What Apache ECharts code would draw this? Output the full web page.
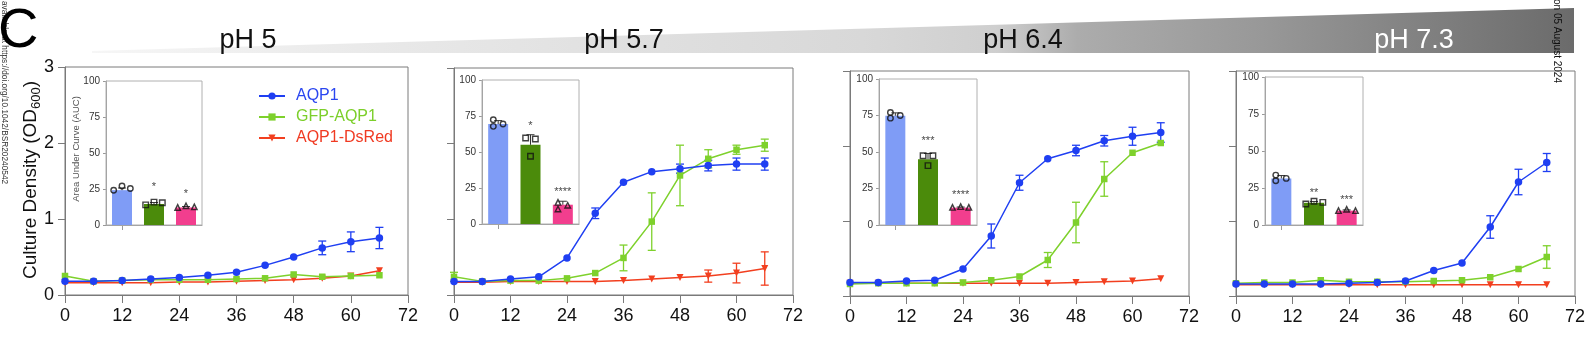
<!DOCTYPE html>
<html><head><meta charset="utf-8">
<script src="https://cdn.jsdelivr.net/npm/echarts@6/dist/echarts.min.js"></script>
<style>html,body{margin:0;padding:0;background:#fff}#c{width:1589px;height:345px}</style>
</head><body><div id="c"></div>
<script>
// ---------- DATA ----------
const times = [0, 6, 12, 18, 24, 30, 36, 42, 48, 54, 60, 66];
const xTickLabels = [0, 12, 24, 36, 48, 60, 72];
const yTickLabels = [0, 1, 2, 3];
const aucTickLabels = [0, 25, 50, 75, 100];
const phLabels = ['pH 5', 'pH 5.7', 'pH 6.4', 'pH 7.3'];
const seriesNames = ['AQP1', 'GFP-AQP1', 'AQP1-DsRed'];

// OD600 means per pH (pH 5, 5.7, 6.4, 7.3)
const aqp1Mean = [
  [0.18, 0.18, 0.19, 0.21, 0.23, 0.26, 0.30, 0.39, 0.50, 0.62, 0.70, 0.75],
  [0.18, 0.18, 0.21, 0.24, 0.49, 1.08, 1.49, 1.63, 1.67, 1.71, 1.73, 1.73],
  [0.18, 0.18, 0.20, 0.21, 0.36, 0.80, 1.51, 1.83, 1.94, 2.07, 2.13, 2.18],
  [0.16, 0.16, 0.16, 0.16, 0.17, 0.18, 0.20, 0.34, 0.44, 0.92, 1.52, 1.78]
];
const aqp1Sd = [
  [0.01, 0.01, 0.01, 0.01, 0.01, 0.01, 0.01, 0.02, 0.05, 0.09, 0.13, 0.14],
  [0.01, 0.01, 0.01, 0.01, 0.01, 0.07, 0.05, 0.05, 0.06, 0.07, 0.08, 0.08],
  [0.01, 0.01, 0.01, 0.01, 0.05, 0.16, 0.10, 0.05, 0.07, 0.07, 0.12, 0.13],
  [0.01, 0.01, 0.01, 0.01, 0.01, 0.01, 0.01, 0.01, 0.04, 0.15, 0.17, 0.12]
];
const gfpMean = [
  [0.25, 0.18, 0.19, 0.20, 0.20, 0.20, 0.21, 0.22, 0.27, 0.24, 0.25, 0.26],
  [0.24, 0.18, 0.19, 0.19, 0.22, 0.29, 0.49, 0.97, 1.58, 1.80, 1.92, 1.98],
  [0.16, 0.17, 0.17, 0.17, 0.18, 0.21, 0.26, 0.48, 0.98, 1.56, 1.91, 2.04],
  [0.17, 0.18, 0.18, 0.21, 0.19, 0.19, 0.19, 0.20, 0.21, 0.25, 0.36, 0.52]
];
const gfpSd = [
  [0.02, 0.01, 0.01, 0.01, 0.01, 0.01, 0.01, 0.01, 0.05, 0.02, 0.02, 0.02],
  [0.06, 0.01, 0.01, 0.01, 0.01, 0.01, 0.17, 0.38, 0.40, 0.12, 0.06, 0.08],
  [0.01, 0.01, 0.01, 0.01, 0.01, 0.01, 0.01, 0.10, 0.27, 0.23, 0.04, 0.03],
  [0.01, 0.01, 0.01, 0.02, 0.01, 0.01, 0.01, 0.01, 0.01, 0.01, 0.05, 0.15]
];
const redMean = [
  [0.16, 0.16, 0.16, 0.16, 0.17, 0.17, 0.18, 0.19, 0.20, 0.22, 0.25, 0.32],
  [0.17, 0.17, 0.18, 0.18, 0.18, 0.18, 0.19, 0.21, 0.23, 0.25, 0.29, 0.35],
  [0.17, 0.17, 0.17, 0.17, 0.17, 0.17, 0.17, 0.17, 0.18, 0.19, 0.20, 0.23],
  [0.15, 0.15, 0.15, 0.15, 0.15, 0.15, 0.15, 0.15, 0.15, 0.15, 0.15, 0.15]
];
const redSd = [
  [0.01, 0.01, 0.01, 0.01, 0.01, 0.01, 0.01, 0.01, 0.01, 0.01, 0.01, 0.02],
  [0.01, 0.01, 0.01, 0.01, 0.01, 0.01, 0.01, 0.01, 0.04, 0.08, 0.13, 0.22],
  [0.01, 0.01, 0.01, 0.01, 0.01, 0.01, 0.01, 0.01, 0.01, 0.01, 0.01, 0.01],
  [0.01, 0.01, 0.01, 0.01, 0.01, 0.01, 0.01, 0.01, 0.01, 0.01, 0.01, 0.01]
];

// AUC inset: bar means [AQP1, GFP-AQP1, AQP1-DsRed] per pH
const aucMean = [
  [24.2, 14.6, 12.2],
  [69.4, 55.0, 13.4],
  [74.8, 45.0, 11.9],
  [31.5, 15.0, 9.7]
];
const aucSd = [
  [1.5, 1.0, 0.6],
  [2.4, 7.0, 2.4],
  [2.0, 4.0, 0.4],
  [1.9, 0.9, 0.5]
];
// individual replicate values (three per bar)
const aucPoints = [
  [[24.1, 27.1, 25.3], [14.0, 15.9, 15.4], [12.2, 13.3, 12.6]],
  [[72.4, 67.8, 69.4], [59.7, 59.0, 47.0], [15.0, 10.4, 13.0]],
  [[77.1, 73.2, 75.0], [47.4, 47.4, 40.7], [12.1, 12.6, 12.1]],
  [[33.7, 29.9, 31.5], [14.2, 16.0, 15.3], [9.7, 10.6, 9.7]]
];
const aucPointOffsets = [
  [[-0.26, 0, 0.26], [-0.26, 0, 0.26], [-0.26, 0, 0.26]],
  [[-0.15, -0.15, 0.15], [-0.15, 0.15, 0], [-0.15, -0.15, 0.15]],
  [[-0.15, -0.15, 0.15], [-0.15, 0.15, 0], [-0.25, 0, 0.25]],
  [[-0.17, -0.17, 0.15], [-0.25, 0, 0.27], [-0.25, 0, 0.27]]
];
const aucStars = [
  ['', '*', '*'],
  ['', '*', '****'],
  ['', '***', '****'],
  ['', '**', '***']
];
const aucStarY = [
  [0, 28.3, 23.7],
  [0, 70, 24],
  [0, 59.5, 22.4],
  [0, 24, 18.7]
];

// ---------- STYLE / LAYOUT ----------
const FONT = "'Liberation Sans', Arial, Helvetica, sans-serif";
const lineColors = ['#1f3ff2', '#7ed12c', '#f23f1f'];
const legendColors = ['#2a46f0', '#7ccf2a', '#f03a22'];
const barColors = ['#7f9cf6', '#4b8b0b', '#f23e8e'];
const symbols = ['circle', 'rect', 'triangle'];
const symbolSizes = [7.5, 6.5, 7];
const symbolRot = [0, 0, 180];
const dotSymbols = ['circle', 'rect', 'triangle'];

const mainGrids = [
  {left: 65, top: 67, width: 343, height: 228},
  {left: 454, top: 68, width: 339, height: 227},
  {left: 850, top: 71, width: 339, height: 225},
  {left: 1236, top: 71, width: 339, height: 225}
];
const insetGrids = [
  {left: 106, top: 81, width: 96, height: 144},
  {left: 482, top: 80, width: 97, height: 144},
  {left: 879, top: 79, width: 98, height: 146},
  {left: 1265, top: 77, width: 98, height: 148}
];
const phCenters = [248, 624, 1023, 1414];
const phColors = ['#111', '#111', '#111', '#ffffff'];

const grids = [], xAxes = [], yAxes = [], series = [];
mainGrids.forEach(g => grids.push(Object.assign({show: true, borderColor: '#7a7a7a', borderWidth: 1, backgroundColor: 'transparent', containLabel: false, outerBoundsMode: 'none'}, g)));
insetGrids.forEach(g => grids.push(Object.assign({show: true, borderColor: '#b0b0b0', borderWidth: 1, backgroundColor: 'transparent', containLabel: false, outerBoundsMode: 'none', z: 3}, g)));

const xMin = xTickLabels[0], xMax = xTickLabels[xTickLabels.length - 1], xInt = xTickLabels[1] - xTickLabels[0];
const yMin = yTickLabels[0], yMax = yTickLabels[yTickLabels.length - 1], yInt = yTickLabels[1] - yTickLabels[0];

for (let p = 0; p < 4; p++) {
  xAxes.push({
    type: 'value', gridIndex: p, min: xMin, max: xMax, interval: xInt,
    axisLine: {show: true, onZero: false, lineStyle: {color: '#7a7a7a', width: 1}},
    axisTick: {show: true, length: 8, lineStyle: {color: '#7a7a7a'}},
    axisLabel: {show: true, fontSize: 18, color: '#111', fontFamily: FONT, margin: 12},
    splitLine: {show: false}
  });
  yAxes.push({
    type: 'value', gridIndex: p, min: yMin, max: yMax, interval: yInt,
    axisLine: {show: true, onZero: false, lineStyle: {color: '#7a7a7a', width: 1}},
    axisTick: {show: true, length: 7, lineStyle: {color: '#7a7a7a'}},
    axisLabel: {show: p === 0, fontSize: 18, color: '#111', fontFamily: FONT, margin: 11},
    splitLine: {show: false}
  });
}
for (let p = 0; p < 4; p++) {
  xAxes.push({
    type: 'category', gridIndex: 4 + p, data: seriesNames,
    axisLine: {show: true, onZero: false, lineStyle: {color: '#999', width: 1}},
    axisTick: {show: true, alignWithLabel: true, length: 5, lineStyle: {color: '#999'}},
    axisLabel: {show: false}, splitLine: {show: false}
  });
  yAxes.push({
    type: 'value', gridIndex: 4 + p, min: aucTickLabels[0], max: aucTickLabels[aucTickLabels.length - 1],
    interval: aucTickLabels[1] - aucTickLabels[0],
    axisLine: {show: true, onZero: false, lineStyle: {color: '#999', width: 1}},
    axisTick: {show: true, length: 3, lineStyle: {color: '#999'}},
    axisLabel: {show: true, fontSize: 10, color: '#333', fontFamily: FONT, margin: 6},
    splitLine: {show: false}
  });
}
for (let p = 0; p < 4; p++) {
  xAxes.push({type: 'value', gridIndex: 4 + p, min: -0.5, max: 2.5, show: false});
}

function errRender(params, api) {
  const x = api.value(0), y = api.value(1), e = api.value(2);
  const top = api.coord([x, y + e]), bot = api.coord([x, y - e]);
  if (bot[1] - top[1] < 8) return null;
  const w = 4, c = api.visual('color');
  const st = () => ({stroke: c, lineWidth: 1.3});
  return {type: 'group', children: [
    {type: 'line', shape: {x1: top[0], y1: top[1], x2: bot[0], y2: bot[1]}, style: st()},
    {type: 'line', shape: {x1: top[0] - w, y1: top[1], x2: top[0] + w, y2: top[1]}, style: st()},
    {type: 'line', shape: {x1: bot[0] - w, y1: bot[1], x2: bot[0] + w, y2: bot[1]}, style: st()}
  ]};
}
function barErrRender(params, api) {
  const x = api.value(0), y = api.value(1), e = api.value(2);
  const base = api.coord([x, y]), top = api.coord([x, y + e]);
  const w = 4;
  const st = () => ({stroke: '#333', lineWidth: 1});
  return {type: 'group', children: [
    {type: 'line', shape: {x1: base[0], y1: base[1], x2: top[0], y2: top[1]}, style: st()},
    {type: 'line', shape: {x1: top[0] - w, y1: top[1], x2: top[0] + w, y2: top[1]}, style: st()}
  ]};
}

const means = [aqp1Mean, gfpMean, redMean];
const sds = [aqp1Sd, gfpSd, redSd];

for (let p = 0; p < 4; p++) {
  for (let k = 0; k < 3; k++) {
    series.push({
      type: 'custom', name: seriesNames[k] + ' err', xAxisIndex: p, yAxisIndex: p, z: 2,
      itemStyle: {color: lineColors[k]}, renderItem: errRender, silent: true,
      data: times.map((t, i) => [t, means[k][p][i], sds[k][p][i]])
    });
  }
  for (const k of [2, 1, 0]) {
    series.push({
      type: 'line', name: seriesNames[k], xAxisIndex: p, yAxisIndex: p, z: 3 + (2 - k),
      symbol: symbols[k], symbolSize: symbolSizes[k], symbolRotate: symbolRot[k], showSymbol: true,
      lineStyle: {color: lineColors[k], width: 1.5}, itemStyle: {color: lineColors[k]},
      data: times.map((t, i) => [t, means[k][p][i]]), animation: false
    });
  }
  series.push({
    type: 'bar', name: 'AUC', xAxisIndex: 4 + p, yAxisIndex: 4 + p, barWidth: 20, z: 4,
    data: aucMean[p].map((v, i) => ({value: v, itemStyle: {color: barColors[i]}}))
  });
  series.push({
    type: 'custom', name: 'AUC err', xAxisIndex: 8 + p, yAxisIndex: 4 + p, z: 5, silent: true,
    renderItem: barErrRender,
    data: aucMean[p].map((v, i) => [i, v, aucSd[p][i]])
  });
  for (let i = 0; i < 3; i++) {
    series.push({
      type: 'scatter', name: 'pts', xAxisIndex: 8 + p, yAxisIndex: 4 + p, z: 6,
      symbol: dotSymbols[i], symbolSize: 5.5,
      itemStyle: {color: 'rgba(255,255,255,0)', borderColor: '#111', borderWidth: 1.4},
      data: aucPoints[p][i].map((v, j) => [i + aucPointOffsets[p][i][j], v])
    });
  }
  series.push({
    type: 'scatter', name: 'stars', xAxisIndex: 8 + p, yAxisIndex: 4 + p, z: 7,
    symbolSize: 1, itemStyle: {color: 'rgba(0,0,0,0)'},
    label: {show: true, position: 'inside', offset: [0, 3], fontSize: 11, color: '#111', fontFamily: FONT,
      formatter: (d) => aucStars[p][d.dataIndex]},
    data: aucStarY[p].map((v, i) => [i, v])
  });
}

// ---------- GRAPHICS (decoration & titles) ----------
const graphics = [];
graphics.push({
  type: 'polygon', z: -1,
  shape: {points: [[92, 53], [92, 51], [1574, 8], [1574, 53]]},
  style: {fill: new echarts.graphic.LinearGradient(0, 0, 1, 0, [
    {offset: 0, color: '#f6f6f6'},
    {offset: 0.21, color: '#e8e8e8'},
    {offset: 0.52, color: '#d8d8d8'},
    {offset: 0.61, color: '#cfcfcf'},
    {offset: 0.665, color: '#acacac'},
    {offset: 0.79, color: '#989898'},
    {offset: 1, color: '#6b6b6b'}
  ])}
});
phLabels.forEach((t, i) => graphics.push({
  type: 'text', x: phCenters[i], y: 41, z: 10,
  style: {text: t, fontSize: 27, fontFamily: FONT, fill: phColors[i], align: 'center', verticalAlign: 'middle'}
}));
graphics.push({
  type: 'text', x: 4, y: 1, z: 0, rotation: -Math.PI / 2,
  style: {text: 'available at https://doi.org/10.1042/BSR20240542', fontSize: 8.3, fontFamily: FONT, fill: '#333',
    align: 'left', verticalAlign: 'middle'}
});
graphics.push({
  type: 'text', x: 1557, y: -1, z: 10, rotation: -Math.PI / 2,
  style: {text: 'on 05 August 2024', fontSize: 10, fontFamily: FONT, fill: '#111', align: 'left', verticalAlign: 'middle'}
});
graphics.push({
  type: 'text', x: -2, y: 32, z: 20,
  style: {text: 'C', fontSize: 56, fontFamily: FONT, fill: '#000', align: 'left', verticalAlign: 'middle'}
});
graphics.push({
  type: 'text', x: 31, y: 180, z: 10, rotation: Math.PI / 2,
  style: {
    text: '{a|Culture Density (OD}{s|600}{a|)}', align: 'center', verticalAlign: 'middle',
    rich: {
      a: {fontSize: 19, fontFamily: FONT, fill: '#111', lineHeight: 24},
      s: {fontSize: 13, fontFamily: FONT, fill: '#111', lineHeight: 13, verticalAlign: 'bottom'}
    }
  }
});
graphics.push({
  type: 'text', x: 76, y: 149, z: 10, rotation: Math.PI / 2,
  style: {text: 'Area Under Curve (AUC)', fontSize: 9.5, fontFamily: FONT, fill: '#555', align: 'center', verticalAlign: 'middle'}
});

const option = {
  animation: false,
  backgroundColor: '#fff',
  textStyle: {fontFamily: FONT},
  grid: grids, xAxis: xAxes, yAxis: yAxes, series: series,
  legend: {
    orient: 'vertical', left: 253, top: 83, itemWidth: 26, itemHeight: 9, itemGap: 5,
    selectedMode: false,
    textStyle: {fontSize: 16, fontFamily: FONT, padding: [0, 0, 0, 6]},
    data: seriesNames.map((n, i) => ({name: n, textStyle: {color: legendColors[i]}}))
  },
  graphic: graphics
};
const chart = echarts.init(document.getElementById('c'), null, {renderer: 'canvas'});
chart.setOption(option);
</script>
</body></html>
